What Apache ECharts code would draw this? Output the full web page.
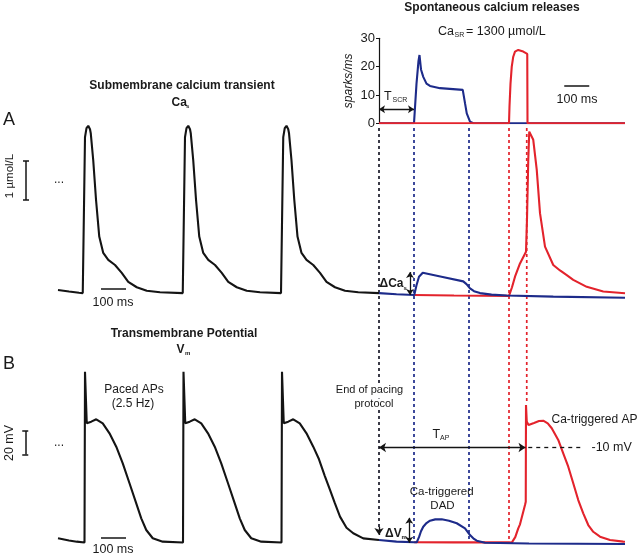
<!DOCTYPE html>
<html><head><meta charset="utf-8">
<script src="https://cdn.jsdelivr.net/npm/echarts@6/dist/echarts.min.js"></script>
<style>html,body{margin:0;padding:0;background:#fff}#c{width:640px;height:556px}</style>
</head><body><div id="c"></div>
<script>
// ---------- DATA (time in ms, 0 = end of pacing protocol) ----------
// Panel A: submembrane Ca (µmol/L)
const caPaced = [[-1284,0.18],[-1240,0.14],[-1200,0.11],[-1185,0.10],[-1176,4.10],[-1170,4.33],[-1163,4.39],[-1156,4.30],[-1153,4.20],[-1143,3.50],[-1132,2.50],[-1119,1.55],[-1103,1.13],[-1083,0.95],[-1056,0.82],[-1029,0.62],[-1003,0.39],[-969,0.25],[-929,0.16],[-876,0.12],[-785,0.10],
  [-776,4.10],[-770,4.33],[-763,4.39],[-756,4.30],[-753,4.20],[-743,3.50],[-732,2.50],[-719,1.55],[-703,1.13],[-683,0.95],[-656,0.82],[-629,0.62],[-603,0.39],[-569,0.25],[-529,0.16],[-476,0.12],[-392,0.10],
  [-383,4.10],[-377,4.33],[-370,4.39],[-363,4.30],[-360,4.20],[-350,3.50],[-339,2.50],[-326,1.55],[-310,1.13],[-290,0.95],[-263,0.82],[-236,0.62],[-210,0.39],[-176,0.25],[-136,0.16],[-83,0.12],[0,0.10]];
const caDAD = [[0,0.10],[70,0.07],[141,0.05],[150,0.30],[160,0.52],[175,0.62],[250,0.52],[337,0.40],[350,0.33],[364,0.22],[380,0.15],[404,0.10],[450,0.06],[511,0.04],[697,0.01],[984,-0.02]];
const caTriggered = [[141,0.05],[300,0.04],[520,0.03],[532,0.25],[544,0.52],[564,0.86],[588,1.16],[592,2.0],[597,3.5],[601,4.24],[606,4.28],[617,4.03],[631,3.26],[644,2.15],[664,1.29],[697,0.82],[724,0.68],[751,0.56],[777,0.44],[831,0.26],[897,0.14],[984,0.095]];
// Panel B: membrane potential (mV)
const vmPaced = [[-1284,-86.9],[-1240,-88.8],[-1209,-89.8],[-1178,-90.5],[-1176,54.2],[-1169,10.5],[-1151,11.9],[-1131,13.9],[-1105,10.5],[-1078,2.0],[-1051,-9.3],[-1025,-23.4],[-998,-40.3],[-971,-57.3],[-951,-70.0],[-931,-79.9],[-905,-86.9],[-865,-89.8],[-784,-90.5],
  [-782,54.2],[-775,10.5],[-757,11.9],[-737,13.9],[-711,10.5],[-684,2.0],[-657,-9.3],[-631,-23.4],[-604,-40.3],[-577,-57.3],[-557,-70.0],[-537,-79.9],[-511,-86.9],[-471,-89.8],[-390,-90.5],
  [-388,54.2],[-381,10.5],[-363,11.9],[-343,13.9],[-317,10.5],[-290,2.0],[-263,-9.3],[-240,-20],[-217,-34],[-196,-46],[-177,-57],[-156,-68.6],[-130,-78],[-103,-82.7],[-63,-87],[0,-88.4]];
const vmDAD = [[0,-88.4],[70,-89.8],[141,-90.3],[151,-90.3],[160,-86],[168,-81],[177,-77.1],[190,-74],[204,-72],[225,-70.9],[251,-70.8],[280,-72],[311,-74.2],[344,-78.5],[364,-84.2],[380,-87.5],[391,-89],[424,-90.7],[600,-91.3],[984,-91.8]];
const vmTriggered = [[141,-90.3],[300,-90.4],[520,-90.4],[531,-90.6],[545,-86],[557,-78.5],[564,-75.1],[577,-64.4],[584,-58.8],[587,-56],[588,26],[591,12],[598,9.1],[620,10.8],[640,12.4],[657,12.7],[675,10.5],[691,6.3],[717,-3.6],[737,-14.9],[757,-26.3],[777,-40.3],[797,-54.5],[817,-65.8],[837,-75.7],[857,-81.4],[884,-85.6],[924,-88.4],[977,-89.8],[984,-89.9]];
// Inset: spark rate (sparks/ms)
const sparksDAD = [[0,0],[140,0],[150,14],[158,22],[162,24.1],[168,19],[177,16.4],[190,14],[204,13.2],[244,12.4],[335,11.8],[338,11.5],[344,7.1],[351,3.5],[364,0.6],[377,0],[984,0]];
const sparksAP = [[0,0],[520,0],[522,6],[526,14],[531,20],[537,23.5],[544,25.3],[557,25.9],[577,25.3],[593,24.5],[594,0],[984,0]];
const sparkTicks = [0, 10, 20, 30];
// Event times (ms): end of pacing, SCR onset/end (blue), SCR onset/AP (red)
const eventTimes = [0, 140, 360, 520, 591];
const eventColors = ['#1a1a2a', '#1d2b8a', '#1d2b8a', '#e3232c', '#e3232c'];
const T_SCR = 140, T_AP = 586;
const scaleTime = 100, scaleCa = 1, scaleVm = 20;

// ---------- STYLE ----------
const BLACK = '#141414', BLUE = '#1d2b8a', RED = '#e3232c';
const FONT = '"Liberation Sans", Arial, sans-serif';
const XMIN = -1516, XMAX = 1044;

const chart = echarts.init(document.getElementById('c'), null, {renderer: 'canvas'});

function trace(data, color, xi, z) {
  return {type: 'line', xAxisIndex: xi, yAxisIndex: xi, data: data, symbol: 'none', smooth: false,
    lineStyle: {color: color, width: 2.1}, silent: true, z: z || 3, animation: false};
}
function seg(a, b) { return [{coord: a}, {coord: b}]; }
function ml(data, opt) {
  return Object.assign({silent: true, animation: false, symbol: 'none', label: {show: false},
    lineStyle: {color: BLACK, width: 1.3, type: 'solid'}, emphasis: {disabled: true}, data: data}, opt || {});
}
const solid = (w) => ({color: BLACK, width: w, type: 'solid'});

// overlay vertical dashed lines
const overlaySeries = eventTimes.map((t, i) => {
  const yEnd = i === 0 ? 533 : (i === 4 ? 404 : 541);
  return {type: 'line', xAxisIndex: 3, yAxisIndex: 3, symbol: 'none', silent: true, z: 1,
    data: [[t, 128], [t, yEnd]], lineStyle: {color: eventColors[i], width: 1.7, type: [3, 3]}};
});
overlaySeries[0].markLine = ml([seg([0, 527], [0, 535])], {symbol: ['none', 'arrow'], symbolSize: 7,
  lineStyle: solid(1.3)});

// Panel A series
const sA1 = trace(caPaced, BLACK, 0);
sA1.markLine = ml([
  seg([-1112, 0.21], [-1112 + scaleTime, 0.21]),
  seg([-1412, 2.49], [-1412, 2.49 + scaleCa]),
  seg([-1424, 2.49], [-1400, 2.49]),
  seg([-1424, 2.49 + scaleCa], [-1400, 2.49 + scaleCa])
], {lineStyle: solid(1.5)});
const sA2 = trace(caDAD, BLUE, 0, 4);
sA2.markLine = ml([seg([124, 0.05], [124, 0.64])], {symbol: ['arrow', 'arrow'], symbolSize: 6, lineStyle: solid(1.3)});
const sA3 = trace(caTriggered, RED, 0, 3);

// Panel B series
const sB1 = trace(vmPaced, BLACK, 1);
sB1.markLine = ml([
  seg([-1112, -86.4], [-1112 + scaleTime, -86.4]),
  seg([-1415, -16], [-1415, -16 + scaleVm]),
  seg([-1427, -16], [-1403, -16]),
  seg([-1427, -16 + scaleVm], [-1403, -16 + scaleVm])
], {lineStyle: solid(1.5)});
const sB2 = trace(vmDAD, BLUE, 1, 4);
sB2.markLine = ml([seg([121, -90.8], [121, -69.6])], {symbol: ['arrow', 'arrow'], symbolSize: 6, lineStyle: solid(1.3)});
const sB3 = trace(vmTriggered, RED, 1, 3);
sB3.markLine = ml([
  seg([0, -10], [T_AP, -10])
], {symbol: ['arrow', 'arrow'], symbolSize: 7, lineStyle: solid(1.3)});
const sB4 = {type: 'line', xAxisIndex: 1, yAxisIndex: 1, data: [], silent: true,
  markLine: ml([seg([597, -10], [817, -10])], {lineStyle: {color: BLACK, width: 1.3, type: [4, 4]}})};

// Inset series
const sI1 = trace(sparksDAD, BLUE, 2, 3);
sI1.markLine = ml([
  seg([0, 5], [T_SCR, 5])
], {symbol: ['arrow', 'arrow'], symbolSize: 6, lineStyle: solid(1.3)});
const sI2 = trace(sparksAP, RED, 2, 4);
sI2.markLine = ml([seg([741, 13.2], [741 + scaleTime, 13.2])], {lineStyle: solid(1.5)});

function txt(x, y, text, o) {
  o = o || {};
  return {type: 'text', x: x, y: y, rotation: o.rot || 0, z: 100, silent: true,
    style: {text: text, fill: o.color || '#1a1a1a', align: o.align || 'left', verticalAlign: 'middle',
      font: (o.style || '') + ' ' + (o.weight || 'normal') + ' ' + (o.size || 12) + 'px ' + FONT,
      backgroundColor: o.bg, padding: o.pad}};
}

const texts = [
  txt(492, 8, 'Spontaneous calcium releases', {align: 'center', weight: 'bold'}),
  txt(438, 32, 'Ca', {size: 12.5}),
  txt(454.5, 35.5, 'SR', {size: 7}),
  txt(466, 32, '= 1300 µmol/L', {size: 12.5}),
  txt(384, 97, 'T', {size: 12.5}),
  txt(392.5, 100.5, 'SCR', {size: 7}),
  txt(577, 100, '100 ms', {align: 'center', size: 12.5}),

  txt(182, 86, 'Submembrane calcium transient', {align: 'center', weight: 'bold'}),
  txt(171.5, 103, 'Ca', {weight: 'bold'}),
  txt(186, 106, 's', {weight: 'bold', size: 6}),
  txt(3, 120, 'A', {size: 18}),
  txt(10, 176, '1 µmol/L', {align: 'center', rot: Math.PI / 2, size: 11.5}),
  txt(59, 180, '...', {align: 'center', size: 12}),
  txt(113, 302.5, '100 ms', {align: 'center', size: 12.5}),
  txt(379.5, 283.5, 'ΔCa', {weight: 'bold'}),
  txt(403.5, 288, 's', {weight: 'bold', size: 6}),

  txt(184, 333.5, 'Transmembrane Potential', {align: 'center', weight: 'bold'}),
  txt(176.5, 349.5, 'V', {weight: 'bold'}),
  txt(185, 353, 'm', {weight: 'bold', size: 6}),
  txt(3, 364.5, 'B', {size: 18}),
  txt(134, 389.5, 'Paced APs', {align: 'center'}),
  txt(133, 404, '(2.5 Hz)', {align: 'center'}),
  txt(10, 443, '20 mV', {align: 'center', rot: Math.PI / 2, size: 12.5}),
  txt(59, 443, '...', {align: 'center', size: 12}),
  txt(113, 549.5, '100 ms', {align: 'center', size: 12.5}),
  txt(369.5, 390, 'End of pacing', {align: 'center', size: 11, bg: '#fff', pad: [0, 1]}),
  txt(374, 404, 'protocol', {align: 'center', size: 11, bg: '#fff', pad: [0, 1]}),
  txt(432.5, 435, 'T', {size: 12.5}),
  txt(440, 438.5, 'AP', {size: 7}),
  txt(551.5, 420, 'Ca-triggered AP', {size: 12}),
  txt(591.5, 448, '-10 mV', {size: 12.5}),
  txt(441.7, 491.5, 'Ca-triggered', {align: 'center', size: 11.5}),
  txt(442.5, 506, 'DAD', {align: 'center', size: 11.5}),
  txt(385, 533.5, 'ΔV', {weight: 'bold'}),
  txt(401.5, 537.5, 'm', {weight: 'bold', size: 6})
];

const hiddenX = (gi, min) => ({type: 'value', gridIndex: gi, min: min, max: XMAX, show: false});
const hiddenY = (gi, min, max, inv) => ({type: 'value', gridIndex: gi, min: min, max: max, show: false, inverse: !!inv});

chart.setOption({
  animation: false,
  backgroundColor: '#fff',
  grid: [
    {left: 0, right: 0, top: 102, height: 202.8},
    {left: 0, right: 0, top: 364.9, height: 188.8},
    {left: 379, right: 0, top: 38.3, height: 85},
    {left: 0, right: 0, top: 0, height: 556}
  ],
  xAxis: [hiddenX(0, XMIN), hiddenX(1, XMIN), hiddenX(2, 0), hiddenX(3, XMIN)],
  yAxis: [
    hiddenY(0, -0.2, 5.0),
    hiddenY(1, -100, 60),
    {type: 'value', gridIndex: 2, min: sparkTicks[0], max: sparkTicks[sparkTicks.length - 1], interval: 10,
      name: 'sparks/ms', nameLocation: 'middle', nameGap: 24,
      nameTextStyle: {fontStyle: 'italic', fontSize: 12, color: '#1a1a1a', fontFamily: FONT},
      axisLine: {show: true, lineStyle: {color: BLACK, width: 1.2}},
      axisTick: {show: true, length: 3, lineStyle: {color: BLACK}},
      axisLabel: {fontSize: 13, color: '#1a1a1a', fontFamily: FONT, margin: 4},
      splitLine: {show: false}},
    hiddenY(3, 0, 556, true)
  ],
  series: overlaySeries.concat([sA3, sA1, sA2, sB3, sB1, sB2, sB4, sI1, sI2]),
  graphic: texts
});
</script>
</body></html>
